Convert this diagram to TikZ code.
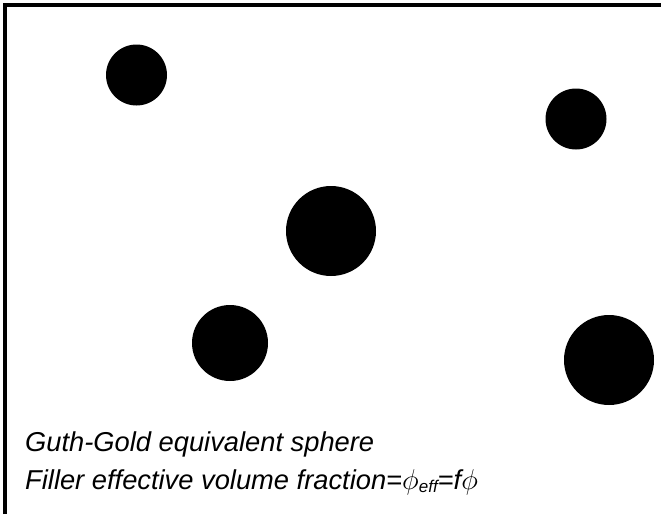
\documentclass[tikz,border=0pt]{standalone}
\usepackage{fontspec}
\setmainfont{Liberation Sans}
\begin{document}
\begin{tikzpicture}[x=1pt,y=-1pt,
  particle/.style={circle,fill=black,inner sep=0pt,draw=none},
  caption/.style={anchor=base west,inner sep=0pt,font=\fontsize{27.3}{32}\selectfont\itshape}]
\useasboundingbox (0,0) rectangle (661,514);
\fill[white] (0,0) rectangle (661,514);
\draw[line width=4pt] (5,514) -- (5,5) -- (661,5);
\node[particle,minimum size=61pt] (p1) at (136.5,75) {};
\node[particle,minimum size=61pt] (p2) at (576,119) {};
\node[particle,minimum size=90pt] (p3) at (331,231) {};
\node[particle,minimum size=76pt] (p4) at (230,343) {};
\node[particle,minimum size=90pt] (p5) at (609,360) {};
\node[caption] (t1) at (25,451) {Guth-Gold equivalent sphere};
\node[caption] (t2) at (25,489) {Filler effective volume fraction=\scalebox{1.15}{$\phi$}\raisebox{-0.25ex}{\fontsize{17}{20}\selectfont eff}=f\scalebox{1.15}{$\phi$}};
\end{tikzpicture}
\end{document}
